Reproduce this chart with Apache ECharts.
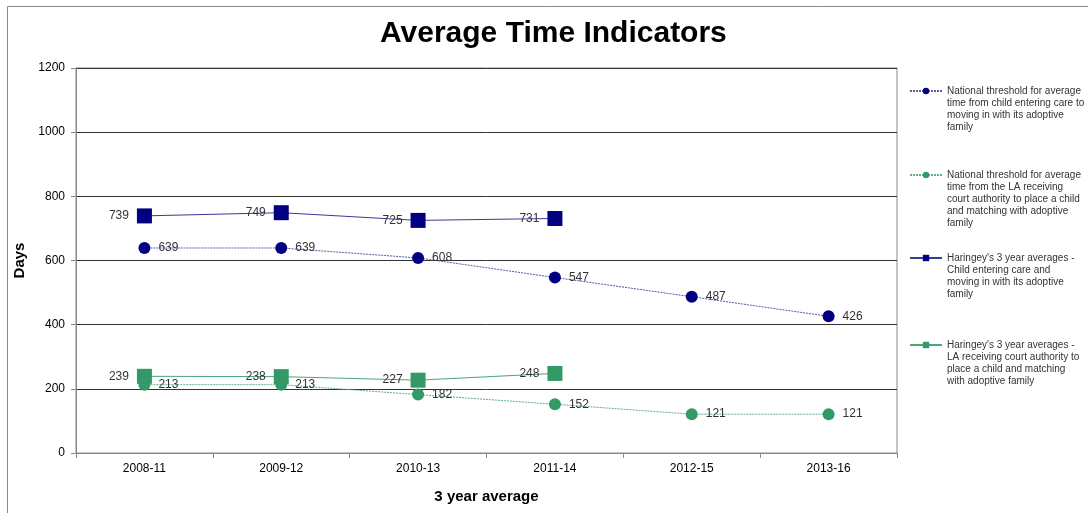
<!DOCTYPE html>
<html>
<head>
<meta charset="utf-8">
<script src="https://cdn.jsdelivr.net/npm/echarts@6/dist/echarts.min.js"></script>
<style>
  html, body { margin: 0; padding: 0; background: #fff; }
  #chart { width: 1088px; height: 513px; }
</style>
</head>
<body>
<div id="chart"></div>
<script>
// Three-year rolling periods on the category axis
var periods = ['2008-11', '2009-12', '2010-13', '2011-14', '2012-15', '2013-16'];
var yTicks = [0, 200, 400, 600, 800, 1000, 1200];

// National thresholds (days)
var nationalCare = [639, 639, 608, 547, 487, 426];
var nationalCourt = [213, 213, 182, 152, 121, 121];

// Haringey's 3 year averages (days)
var haringeyCare = [739, 749, 725, 731, null, null];
var haringeyCourt = [239, 238, 227, 248, null, null];

var names = [
  'National threshold for average\ntime from child entering care to\nmoving in with its adoptive\nfamily',
  'National threshold for average\ntime from the LA receiving\ncourt authority to place a child\nand matching with adoptive\nfamily',
  'Haringey\'s 3 year averages -\nChild entering care and\nmoving in with its adoptive\nfamily',
  'Haringey\'s 3 year averages -\nLA receiving court authority to\nplace a child and matching\nwith adoptive family'
];
var legendIconY = [91, 175, 258, 345];

var NAVY = '#000080';
var GREEN = '#339966';
var FONT = '"Liberation Sans", Arial, sans-serif';
var LEGEND_LH = 12;

// One legend per entry so each block sits at its own height. The text is
// centred on the icon, so blank lines are put in front of it to bring the
// first written line level with the icon.
var legends = names.map(function (n, i) {
  var lines = n.split('\n').length;
  var blank = new Array(lines).join('\n');
  var half = LEGEND_LH * (2 * lines - 1) / 2;
  return {
    orient: 'vertical',
    left: 909,
    top: legendIconY[i] - half,
    padding: 0,
    itemWidth: 32,
    itemHeight: 8,
    data: [n],
    formatter: function (name) { return blank + name; },
    textStyle: {
      fontFamily: FONT,
      fontSize: 10,
      lineHeight: LEGEND_LH,
      color: '#333'
    }
  };
});

function labelStyle(pos) {
  return {
    show: true,
    position: pos,
    distance: 8,
    fontFamily: FONT,
    fontSize: 12,
    color: '#333'
  };
}

var option = {
  animation: false,
  backgroundColor: '#fff',
  title: {
    text: 'Average Time Indicators',
    left: 375,
    top: 14,
    textStyle: { fontFamily: FONT, fontSize: 30, fontWeight: 'bold', color: '#000' }
  },
  graphic: [{
    type: 'rect',
    shape: { x: 7.5, y: 6.5, width: 1200, height: 700 },
    style: { fill: 'none', stroke: '#888', lineWidth: 1 },
    silent: true,
    z: -1
  }],
  legend: legends,
  grid: {
    left: 76, right: 191, top: 68, bottom: 60,
    show: true, borderColor: '#888', borderWidth: 1
  },
  xAxis: {
    type: 'category',
    data: periods,
    boundaryGap: true,
    name: '3 year average',
    nameLocation: 'middle',
    nameGap: 36,
    nameTextStyle: { fontFamily: FONT, fontSize: 15, fontWeight: 'bold', color: '#000' },
    axisLine: { lineStyle: { color: '#888' } },
    axisTick: { show: true, alignWithLabel: false, length: 5, lineStyle: { color: '#888' } },
    axisLabel: { fontFamily: FONT, fontSize: 12, color: '#000', margin: 10 },
    splitLine: { show: false }
  },
  yAxis: {
    type: 'value',
    min: yTicks[0],
    max: yTicks[yTicks.length - 1],
    interval: yTicks[1] - yTicks[0],
    name: 'Days',
    nameLocation: 'middle',
    nameRotate: 90,
    nameGap: 39,
    nameTextStyle: { fontFamily: FONT, fontSize: 15, fontWeight: 'bold', color: '#000' },
    axisLine: { show: true, lineStyle: { color: '#888' } },
    axisTick: { show: true, length: 5, lineStyle: { color: '#888' } },
    axisLabel: {
      fontFamily: FONT, fontSize: 12, color: '#000', margin: 11,
      formatter: function (v) { return String(v); }
    },
    splitLine: { show: true, lineStyle: { color: '#333', width: 1 } }
  },
  series: [
    {
      name: names[0],
      type: 'line',
      data: nationalCare,
      symbol: 'circle',
      symbolSize: 12,
      itemStyle: { color: NAVY },
      lineStyle: { color: '#5a5aa8', width: 1, type: [2, 1] },
      label: labelStyle('right'),
      z: 3
    },
    {
      name: names[1],
      type: 'line',
      data: nationalCourt,
      symbol: 'circle',
      symbolSize: 12,
      itemStyle: { color: GREEN },
      lineStyle: { color: '#5fb08a', width: 1, type: [2, 1] },
      label: labelStyle('right'),
      z: 3
    },
    {
      name: names[2],
      type: 'line',
      data: haringeyCare,
      symbol: 'rect',
      symbolSize: 15,
      itemStyle: { color: NAVY },
      lineStyle: { color: '#3a3a9a', width: 1 },
      label: labelStyle('left'),
      z: 4
    },
    {
      name: names[3],
      type: 'line',
      data: haringeyCourt,
      symbol: 'rect',
      symbolSize: 15,
      itemStyle: { color: GREEN },
      lineStyle: { color: '#4aa57a', width: 1 },
      label: labelStyle('left'),
      z: 4
    }
  ]
};

var chart = echarts.init(document.getElementById('chart'), null, { renderer: 'canvas' });
chart.setOption(option);
</script>
</body>
</html>
